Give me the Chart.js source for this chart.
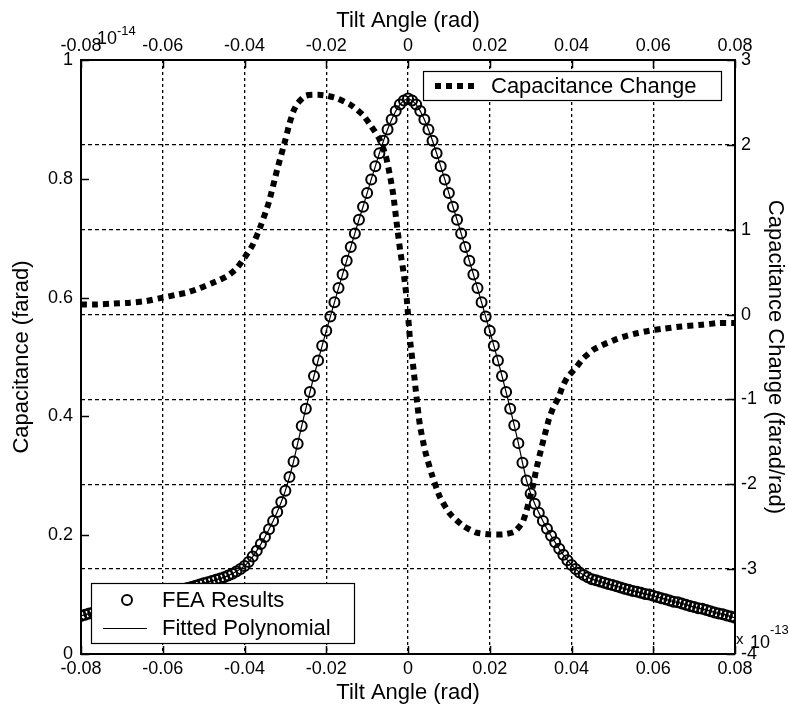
<!DOCTYPE html>
<html>
<head>
<meta charset="utf-8">
<script src="https://cdn.jsdelivr.net/npm/chart.js@4"></script>
<style>
  body { margin: 0; background: #fff; }
  canvas { display: block; }
</style>
</head>
<body>
<canvas id="myChart" width="788" height="712"></canvas>
<script>
// tick positions + labels
var xTicks = [-0.08, -0.06, -0.04, -0.02, 0, 0.02, 0.04, 0.06, 0.08];
var xTickLabels = ['-0.08', '-0.06', '-0.04', '-0.02', '0', '0.02', '0.04', '0.06', '0.08'];
var capTicks = [0, 0.2, 0.4, 0.6, 0.8, 1];
var capTickLabels = ['0', '0.2', '0.4', '0.6', '0.8', '1'];
var changeTicks = [-4, -3, -2, -1, 0, 1, 2, 3];
var changeTickLabels = ['-4', '-3', '-2', '-1', '0', '1', '2', '3'];

// FEA results (x 1e-14 farad)
var angles = [
  -0.080, -0.079, -0.078, -0.077, -0.076, -0.075, -0.074, -0.073, -0.072, -0.071,
  -0.070, -0.069, -0.068, -0.067, -0.066, -0.065, -0.064, -0.063, -0.062, -0.061,
  -0.060, -0.059, -0.058, -0.057, -0.056, -0.055, -0.054, -0.053, -0.052, -0.051,
  -0.050, -0.049, -0.048, -0.047, -0.046, -0.045, -0.044, -0.043, -0.042, -0.041,
  -0.040, -0.039, -0.038, -0.037, -0.036, -0.035, -0.034, -0.033, -0.032, -0.031,
  -0.030, -0.029, -0.028, -0.027, -0.026, -0.025, -0.024, -0.023, -0.022, -0.021,
  -0.020, -0.019, -0.018, -0.017, -0.016, -0.015, -0.014, -0.013, -0.012, -0.011,
  -0.010, -0.009, -0.008, -0.007, -0.006, -0.005, -0.004, -0.003, -0.002, -0.001,
  0.000, 0.001, 0.002, 0.003, 0.004, 0.005, 0.006, 0.007, 0.008, 0.009,
  0.010, 0.011, 0.012, 0.013, 0.014, 0.015, 0.016, 0.017, 0.018, 0.019,
  0.020, 0.021, 0.022, 0.023, 0.024, 0.025, 0.026, 0.027, 0.028, 0.029,
  0.030, 0.031, 0.032, 0.033, 0.034, 0.035, 0.036, 0.037, 0.038, 0.039,
  0.040, 0.041, 0.042, 0.043, 0.044, 0.045, 0.046, 0.047, 0.048, 0.049,
  0.050, 0.051, 0.052, 0.053, 0.054, 0.055, 0.056, 0.057, 0.058, 0.059,
  0.060, 0.061, 0.062, 0.063, 0.064, 0.065, 0.066, 0.067, 0.068, 0.069,
  0.070, 0.071, 0.072, 0.073, 0.074, 0.075, 0.076, 0.077, 0.078, 0.079,
  0.080
];
var capacitance = [
  0.064, 0.066, 0.068, 0.070, 0.071, 0.073, 0.075, 0.077, 0.079, 0.080,
  0.082, 0.084, 0.086, 0.088, 0.090, 0.091, 0.093, 0.095, 0.097, 0.099,
  0.101, 0.103, 0.104, 0.106, 0.108, 0.109, 0.111, 0.113, 0.115, 0.117,
  0.119, 0.121, 0.123, 0.125, 0.127, 0.129, 0.132, 0.135, 0.139, 0.143,
  0.148, 0.155, 0.164, 0.174, 0.185, 0.197, 0.210, 0.224, 0.239, 0.256,
  0.275, 0.298, 0.324, 0.354, 0.384, 0.413, 0.441, 0.468, 0.494, 0.519,
  0.544, 0.568, 0.592, 0.616, 0.639, 0.662, 0.685, 0.708, 0.731, 0.753,
  0.776, 0.799, 0.821, 0.843, 0.864, 0.883, 0.900, 0.914, 0.925, 0.932,
  0.935, 0.932, 0.925, 0.914, 0.900, 0.883, 0.864, 0.843, 0.821, 0.799,
  0.776, 0.753, 0.731, 0.708, 0.685, 0.662, 0.639, 0.616, 0.592, 0.568,
  0.544, 0.519, 0.494, 0.468, 0.441, 0.413, 0.385, 0.355, 0.322, 0.292,
  0.270, 0.253, 0.238, 0.224, 0.211, 0.199, 0.188, 0.177, 0.167, 0.158,
  0.150, 0.143, 0.137, 0.133, 0.129, 0.126, 0.124, 0.122, 0.120, 0.118,
  0.116, 0.114, 0.112, 0.110, 0.108, 0.106, 0.105, 0.103, 0.101, 0.100,
  0.098, 0.096, 0.094, 0.092, 0.090, 0.088, 0.087, 0.085, 0.083, 0.081,
  0.079, 0.077, 0.076, 0.074, 0.072, 0.070, 0.068, 0.067, 0.065, 0.063,
  0.061
];
// fitted polynomial follows the FEA points
var fitted = capacitance;

// capacitance change (x 1e-13 farad/rad)
var changeAngles = [
  -0.080, -0.076, -0.072, -0.068, -0.064, -0.060, -0.057, -0.054, -0.051, -0.048,
  -0.046, -0.044, -0.042, -0.040, -0.038, -0.036, -0.034, -0.032, -0.030, -0.029,
  -0.028, -0.027, -0.025, -0.022, -0.020, -0.0175, -0.014, -0.011, -0.009, -0.007,
  -0.0055, -0.0045, -0.0036, -0.0027, -0.0019, -0.0011, -0.0003, 0.0005, 0.0013, 0.0021,
  0.0029, 0.0042, 0.0058, 0.0078, 0.0103, 0.0135, 0.0168, 0.020, 0.0233, 0.026,
  0.028, 0.029, 0.0305, 0.0315, 0.0325, 0.0335, 0.0345, 0.0355, 0.0368, 0.0378,
  0.039, 0.041, 0.043, 0.0455, 0.048, 0.051, 0.0535, 0.056, 0.059, 0.062,
  0.067, 0.072, 0.076, 0.080
];
var change = [
  0.12, 0.12, 0.13, 0.14, 0.16, 0.20, 0.23, 0.26, 0.31, 0.37,
  0.41, 0.46, 0.54, 0.67, 0.82, 1.05, 1.33, 1.71, 2.06, 2.25,
  2.40, 2.49, 2.58, 2.59, 2.58, 2.55, 2.47, 2.35, 2.22, 2.07,
  1.88, 1.66, 1.41, 1.05, 0.75, 0.50, 0.18, -0.30, -0.62, -0.98,
  -1.30, -1.61, -1.88, -2.15, -2.35, -2.49, -2.57, -2.59, -2.59, -2.56,
  -2.45, -2.31, -2.03, -1.80, -1.60, -1.41, -1.23, -1.10, -0.98, -0.85,
  -0.74, -0.63, -0.51, -0.41, -0.35, -0.29, -0.25, -0.22, -0.19, -0.17,
  -0.14, -0.12, -0.10, -0.10
];

function pairs(xs, ys) {
  return xs.map(function (x, i) { return { x: x, y: ys[i] }; });
}

var FONT = '"Liberation Sans", Arial, sans-serif';

// inner tick marks, legends, exponent labels (matlab style)
var extras = {
  id: 'extras',
  afterDraw: function (chart) {
    var c = chart.ctx;
    var a = chart.chartArea;
    var sx = chart.scales.x, sy = chart.scales.y, sy1 = chart.scales.y1;
    c.save();
    c.strokeStyle = '#000';
    c.lineWidth = 1.5;
    c.setLineDash([]);
    c.beginPath();
    xTicks.forEach(function (v) {
      var px = Math.round(sx.getPixelForValue(v)) + 0.5;
      c.moveTo(px, a.bottom); c.lineTo(px, a.bottom - 8);
      c.moveTo(px, a.top); c.lineTo(px, a.top + 8);
    });
    capTicks.forEach(function (v) {
      var py = Math.round(sy.getPixelForValue(v)) + 0.5;
      c.moveTo(a.left, py); c.lineTo(a.left + 8, py);
    });
    changeTicks.forEach(function (v) {
      var py = Math.round(sy1.getPixelForValue(v)) + 0.5;
      c.moveTo(a.right, py); c.lineTo(a.right - 8, py);
    });
    c.stroke();

    // legend: capacitance change
    c.fillStyle = '#fff';
    c.fillRect(423, 71, 298, 29);
    c.lineWidth = 1.2;
    c.strokeRect(423.5, 71.5, 298, 29);
    c.beginPath();
    c.lineWidth = 6;
    c.setLineDash([6, 5]);
    c.moveTo(435, 86); c.lineTo(479, 86);
    c.stroke();
    c.setLineDash([]);
    c.fillStyle = '#000';
    c.font = '22px ' + FONT;
    c.textBaseline = 'middle';
    c.textAlign = 'left';
    c.fillText('Capacitance Change', 491, 87);

    // legend: FEA / fitted
    c.fillStyle = '#fff';
    c.fillRect(91, 583, 263, 60);
    c.lineWidth = 1.2;
    c.strokeRect(91.5, 583.5, 263, 60);
    c.beginPath();
    c.lineWidth = 2;
    c.arc(127, 600, 5, 0, Math.PI * 2);
    c.stroke();
    c.beginPath();
    c.lineWidth = 1;
    c.moveTo(103, 628.5); c.lineTo(147, 628.5);
    c.stroke();
    c.fillStyle = '#000';
    c.fillText('FEA Results', 162, 601);
    c.fillText('Fitted Polynomial', 162, 629);

    // exponents
    c.textBaseline = 'alphabetic';
    c.font = '18px ' + FONT;
    c.fillText('10', 97, 44);
    c.font = '13px ' + FONT;
    c.fillText('-14', 117, 35);
    c.font = '15px ' + FONT;
    c.fillText('x', 736, 644);
    c.font = '18px ' + FONT;
    c.fillText('10', 750, 648);
    c.font = '13px ' + FONT;
    c.fillText('-13', 770, 634);
    c.restore();
  }
};

var tickFont = { family: FONT, size: 18 };
var titleFont = { family: FONT, size: 22 };

var ctx = document.getElementById('myChart');
var myChart = new Chart(ctx, {
  type: 'line',
  data: {
    datasets: [
      {
        label: 'FEA Results',
        data: pairs(angles, capacitance),
        xAxisID: 'x',
        yAxisID: 'y',
        showLine: false,
        pointStyle: 'circle',
        pointRadius: 5,
        pointBorderWidth: 2,
        pointBorderColor: '#000',
        pointBackgroundColor: 'rgba(0,0,0,0)',
        order: 2
      },
      {
        label: 'Fitted Polynomial',
        data: pairs(angles, fitted),
        xAxisID: 'x',
        yAxisID: 'y',
        borderColor: '#000',
        borderWidth: 1.2,
        pointRadius: 0,
        tension: 0,
        order: 1
      },
      {
        label: 'Capacitance Change',
        data: pairs(changeAngles, change),
        xAxisID: 'x',
        yAxisID: 'y1',
        borderColor: '#000',
        borderWidth: 6,
        borderDash: [6, 5],
        borderCapStyle: 'butt',
        pointRadius: 0,
        tension: 0.2,
        order: 0
      }
    ]
  },
  options: {
    responsive: false,
    animation: false,
    layout: { padding: 0 },
    plugins: {
      legend: { display: false },
      tooltip: { enabled: false }
    },
    scales: {
      x: {
        type: 'linear',
        position: 'bottom',
        min: -0.08,
        max: 0.08,
        afterBuildTicks: function (s) { s.ticks = xTicks.map(function (v) { return { value: v }; }); },
        afterFit: function (s) { s.height = 58; },
        ticks: {
          color: '#000', font: tickFont, padding: 4, maxRotation: 0, autoSkip: false,
          callback: function (v, i) { return xTickLabels[i]; }
        },
        grid: { color: '#000', lineWidth: 1.3, drawTicks: false },
        border: { display: true, color: '#000', width: 2, dash: [3, 3] },
        title: { display: true, text: 'Tilt Angle (rad)', color: '#000', font: titleFont, padding: { top: 0, bottom: 6 } }
      },
      x2: {
        type: 'linear',
        position: 'top',
        min: -0.08,
        max: 0.08,
        afterBuildTicks: function (s) { s.ticks = xTicks.map(function (v) { return { value: v }; }); },
        afterFit: function (s) { s.height = 60; },
        ticks: {
          color: '#000', font: tickFont, padding: 3, maxRotation: 0, autoSkip: false,
          callback: function (v, i) { return xTickLabels[i]; }
        },
        grid: { display: false, drawTicks: false },
        border: { display: true, color: '#000', width: 2 },
        title: { display: true, text: 'Tilt Angle (rad)', color: '#000', font: titleFont, padding: { top: 8, bottom: 0 } }
      },
      y: {
        type: 'linear',
        position: 'left',
        min: 0,
        max: 1,
        afterBuildTicks: function (s) { s.ticks = capTicks.map(function (v) { return { value: v }; }); },
        afterFit: function (s) { s.width = 81; },
        ticks: {
          color: '#000', font: tickFont, padding: 8, autoSkip: false,
          callback: function (v, i) { return capTickLabels[i]; }
        },
        grid: { display: false, drawTicks: false },
        border: { display: true, color: '#000', width: 2 },
        title: { display: true, text: 'Capacitance (farad)', color: '#000', font: titleFont, padding: { top: 9, bottom: 0 } }
      },
      y1: {
        type: 'linear',
        position: 'right',
        min: -4,
        max: 3,
        afterBuildTicks: function (s) { s.ticks = changeTicks.map(function (v) { return { value: v }; }); },
        afterFit: function (s) { s.width = 53; },
        ticks: {
          color: '#000', font: tickFont, padding: 6, autoSkip: false,
          callback: function (v, i) { return changeTickLabels[i]; }
        },
        grid: { color: '#000', lineWidth: 1.3, drawTicks: false },
        border: { display: true, color: '#000', width: 2, dash: [4, 3] },
        title: { display: true, text: 'Capacitance Change (farad/rad)', color: '#000', font: titleFont, padding: { top: 0, bottom: 0 } }
      }
    }
  },
  plugins: [extras]
});
</script>
</body>
</html>
